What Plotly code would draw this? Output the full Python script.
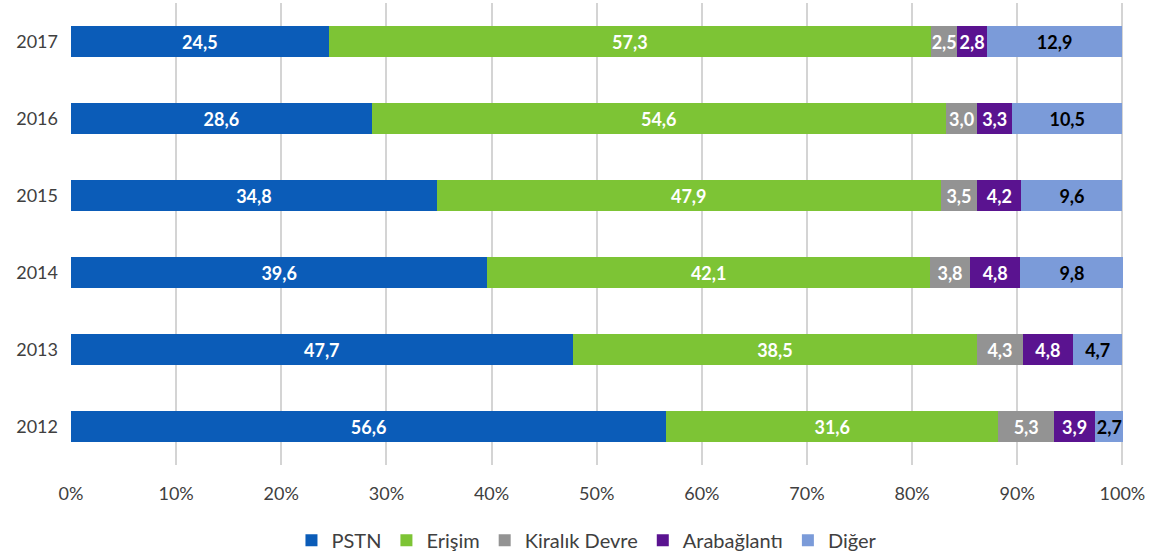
import plotly.graph_objects as go

years = ["2012", "2013", "2014", "2015", "2016", "2017"]
series_names = ["PSTN", "Erişim", "Kiralık Devre", "Arabağlantı", "Diğer"]
pstn = [56.6, 47.7, 39.6, 34.8, 28.6, 24.5]
erisim = [31.6, 38.5, 42.1, 47.9, 54.6, 57.3]
kiralik = [5.3, 4.3, 3.8, 3.5, 3.0, 2.5]
arabaglanti = [3.9, 4.8, 4.8, 4.2, 3.3, 2.8]
diger = [2.7, 4.7, 9.8, 9.6, 10.5, 12.9]
tick_vals = [0, 10, 20, 30, 40, 50, 60, 70, 80, 90, 100]
tick_text = [f"{v}%" for v in tick_vals]

colors = ["#0b5cb8", "#7dc435", "#939393", "#5a1390", "#7b9bd9"]
text_colors = ["white", "white", "white", "white", "black"]
all_series = [pstn, erisim, kiralik, arabaglanti, diger]

fig = go.Figure()
for name, vals, col, tcol in zip(series_names, all_series, colors, text_colors):
    fig.add_trace(go.Bar(
        y=years, x=vals, name=name, orientation="h",
        marker=dict(color=col, line=dict(width=0)),
        text=[f"{v:.1f}".replace(".", ",") for v in vals],
        textposition="inside", insidetextanchor="middle", textangle=0,
        textfont=dict(color=tcol, size=18, family="Lato", weight="bold"),
        cliponaxis=False,
    ))

fig.update_layout(
    barmode="stack", bargap=0.6,
    width=1153, height=557,
    margin=dict(l=71, r=29, t=3, b=92, autoexpand=False),
    paper_bgcolor="white", plot_bgcolor="white",
    font=dict(family="Lato", size=18, color="#404040"),
    uniformtext=dict(minsize=18, mode="show"),
    xaxis=dict(range=[0, 100.15], tickmode="array", tickvals=tick_vals, ticktext=tick_text,
               showgrid=True, gridcolor="#d4d4d4", gridwidth=2,
               zeroline=False, showline=False, ticks="", ticklabelstandoff=16,
               automargin=False,
               tickfont=dict(size=18, color="#404040")),
    yaxis=dict(showgrid=False, showline=False, ticks="", ticklabelstandoff=12,
               automargin=False,
               tickfont=dict(size=18, color="#404040")),
    legend=dict(orientation="h", x=0.49, xanchor="center",
                yref="container", y=0.03, yanchor="middle",
                font=dict(size=20, color="#404040"), traceorder="normal",
                itemwidth=30),
)

fig.write_html("out.html", config={"displayModeBar": False},
               post_script="document.body.style.margin='0';")
